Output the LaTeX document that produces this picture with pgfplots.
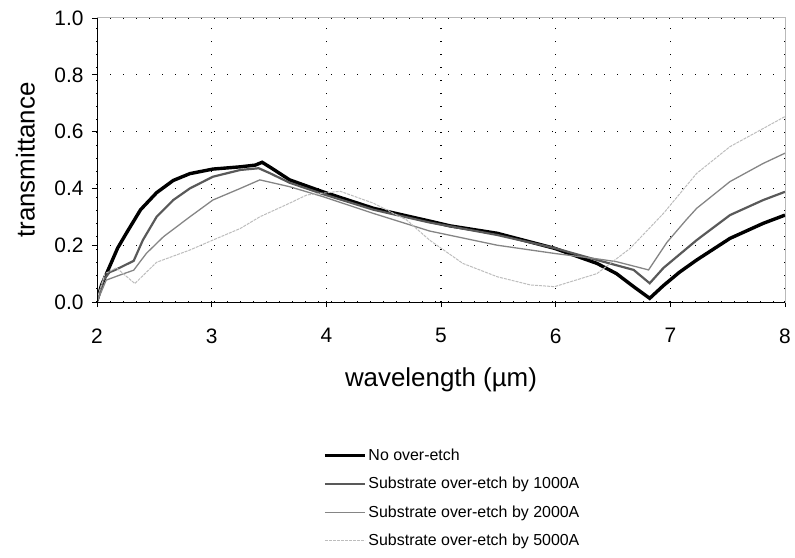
\documentclass[border=0pt]{standalone}
\usepackage{pgfplots}
\pgfplotsset{compat=1.18}
\usepackage{fontspec}
\setmainfont{Liberation Sans}
\usetikzlibrary{calc}

\definecolor{s1000}{gray}{0.35}
\definecolor{s2000}{gray}{0.52}
\definecolor{s5000}{gray}{0.74}

\begin{document}
\begin{tikzpicture}
\begin{axis}[
    scale only axis,
    width=688bp, height=284bp,
    xmin=2, xmax=8, ymin=0, ymax=1,
    xtick={2,3,...,8},
    ytick={0,0.2,...,1.0},
    yticklabel style={/pgf/number format/fixed, /pgf/number format/fixed zerofill, /pgf/number format/precision=1, xshift=-5bp},
    /pgf/number format/assume math mode=true,
    tick label style={font=\fontsize{21}{24}\selectfont},
    xticklabel style={yshift=-18bp},
    tick align=outside, tick pos=left,
    major tick length=5bp,
    tick style={black, line width=0.8bp},
    grid=major,
    grid style={black, line width=1.2bp, dash pattern=on 1.2bp off 11.8bp},
    axis line style={gray!55, line width=1bp},
    xlabel={wavelength (µm)},
    ylabel={transmittance},
    label style={font=\fontsize{26}{30}\selectfont},
    xlabel style={at={(axis description cs:0.5,-0.275)}, anchor=center},
    ylabel style={at={(axis description cs:-0.104,0.5)}, anchor=center},
    legend style={draw=none, fill=none, at={(axis description cs:0.324,-0.503)}, anchor=north west,
        font=\fontsize{16}{19}\selectfont, row sep=11.3bp, cells={anchor=west}},
    legend image code/.code={\draw[#1] (0bp,0bp) -- (40bp,0bp);},
    legend cell align=left,
]
\addplot[black, line width=3.4bp] coordinates {
(2.00,0.005) (2.04,0.06) (2.11,0.125) (2.18,0.19) (2.26,0.245) (2.38,0.325)
(2.52,0.385) (2.665,0.428) (2.81,0.452) (3.01,0.468) (3.25,0.476) (3.38,0.482)
(3.44,0.492) (3.52,0.472) (3.68,0.43) (3.97,0.388) (4.41,0.33) (4.9,0.285)
(5.08,0.268) (5.49,0.242) (5.99,0.189) (6.36,0.136) (6.53,0.10) (6.68,0.054)
(6.82,0.013) (6.94,0.058) (7.08,0.105) (7.23,0.148) (7.52,0.224) (7.81,0.277) (8,0.306)};
\addlegendentry{No over-etch}
\addplot[s1000, line width=2.2bp] coordinates {
(2.00,0.0) (2.055,0.077) (2.11,0.105) (2.17,0.115) (2.32,0.145) (2.40,0.218) (2.52,0.30)
(2.665,0.359) (2.81,0.40) (3.01,0.441) (3.25,0.465) (3.41,0.471) (3.5,0.455)
(3.68,0.42) (3.97,0.38) (4.41,0.325) (4.9,0.28) (5.49,0.236) (5.99,0.19)
(6.36,0.148) (6.68,0.113) (6.82,0.066) (6.94,0.12) (7.23,0.218) (7.52,0.306)
(7.81,0.359) (8,0.388)};
\addlegendentry{Substrate over-etch by 1000A}
\addplot[s2000, line width=1.3bp] coordinates {
(2.00,0.0) (2.08,0.077) (2.2,0.095) (2.32,0.112) (2.43,0.171) (2.58,0.23) (2.81,0.30)
(3.01,0.359) (3.25,0.40) (3.42,0.43) (3.68,0.406) (3.97,0.371) (4.41,0.312)
(4.9,0.25) (5.49,0.20) (5.99,0.171) (6.36,0.152) (6.53,0.142) (6.81,0.113)
(6.97,0.21) (7.14,0.29) (7.23,0.33) (7.52,0.424) (7.81,0.488) (8,0.524)};
\addlegendentry{Substrate over-etch by 2000A}
\addplot[s5000, line width=1bp, dash pattern=on 3bp off 1bp] coordinates {
(2.00,0.01) (2.07,0.10) (2.17,0.12) (2.33,0.065) (2.52,0.14) (2.81,0.183)
(3.01,0.218) (3.25,0.259) (3.42,0.30) (3.68,0.348) (3.83,0.377) (4.12,0.39)
(4.41,0.348) (4.70,0.289) (4.9,0.218) (5.19,0.136) (5.49,0.089) (5.78,0.06)
(5.99,0.054) (6.36,0.10) (6.65,0.189) (6.94,0.312) (7.23,0.453) (7.52,0.547)
(7.81,0.611) (8,0.653)};
\addlegendentry{Substrate over-etch by 5000A}
\draw[black, line width=1bp] (rel axis cs:0,1) -- (rel axis cs:0,0) -- (rel axis cs:1,0);
\coordinate (bl) at (rel axis cs:0,0);
\coordinate (tr) at (rel axis cs:1,1);
\end{axis}
\pgfresetboundingbox
\path ($(bl)+(-97bp,-255bp)$) rectangle ($(tr)+(10bp,18bp)$);
\end{tikzpicture}
\end{document}
